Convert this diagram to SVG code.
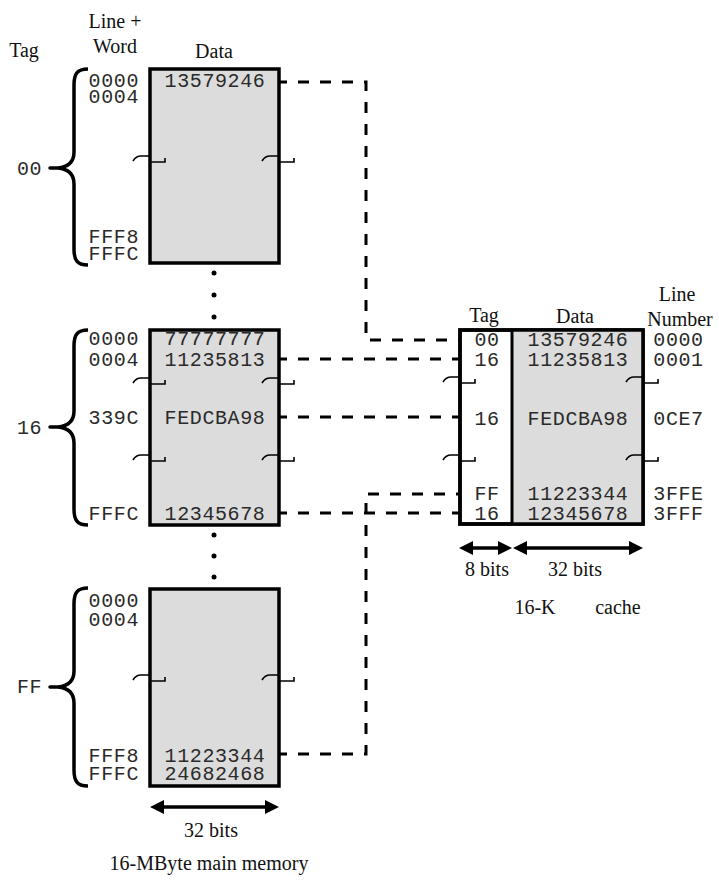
<svg xmlns="http://www.w3.org/2000/svg" width="719" height="883" viewBox="0 0 719 883">
<style>
.box{fill:#dcdcdc;stroke:#000;stroke-width:3.5}
.wbox{fill:#fff;stroke:#000;stroke-width:3.5}
.brace{fill:none;stroke:#000;stroke-width:3.5;stroke-linejoin:round}
.mark{fill:none;stroke:#000;stroke-width:1.6}
.dash{fill:none;stroke:#000;stroke-width:3;stroke-dasharray:11 11;stroke-dashoffset:3}
.mono{font-family:"Liberation Mono","DejaVu Sans Mono",monospace;font-size:20px;letter-spacing:0.6px;fill:#2a2a2a}
.ser{font-family:"Liberation Serif","Times New Roman",serif;font-size:20px;fill:#111}
.mid{text-anchor:middle}
.end{text-anchor:end}
.arr{stroke:#000;stroke-width:3.5;marker-start:url(#ah);marker-end:url(#ah)}
</style>
<defs>
<marker id="ah" viewBox="0 0 14 14" refX="2" refY="7" markerWidth="14" markerHeight="14" markerUnits="userSpaceOnUse" orient="auto-start-reverse">
<path d="M0,0 L14,7 L0,14 z" fill="#000"/>
</marker>
</defs>

<g id="headers">
<text class="ser mid" x="24" y="57">Tag</text>
<text class="ser mid" x="115" y="28">Line +</text>
<text class="ser mid" x="115" y="53">Word</text>
<text class="ser mid" x="214" y="58">Data</text>
<text class="ser mid" x="484" y="322">Tag</text>
<text class="ser mid" x="575" y="323">Data</text>
<text class="ser mid" x="677" y="301">Line</text>
<text class="ser mid" x="680" y="326">Number</text>
</g>

<g id="mem-block-00">
<rect class="box" x="150" y="69" width="129" height="194"/>
<path class="brace" d="M88,69 C77,69 74,74 74,85 L74,152 C74,162 68,167 58,168 L50,168 L58,168 C68,169 74,174 74,184 L74,249 C74,260 77,265 88,265"/>
<text class="mono" x="17" y="175">00</text>
<text class="mono end" x="139" y="87">0000</text>
<text class="mono end" x="139" y="103">0004</text>
<text class="mono end" x="139" y="243">FFF8</text>
<text class="mono end" x="139" y="260">FFFC</text>
<text class="mono mid" x="215" y="87">13579246</text>
<path class="mark" d="M133,161 Q136,156 141,156 H150 M150,162 H165 V158"/>
<path class="mark" d="M262,161 Q265,156 270,156 H279 M279,162 H294 V158"/>
</g>

<g id="dots">
<circle cx="214" cy="273" r="2.5"/>
<circle cx="214" cy="295" r="2.5"/>
<circle cx="214" cy="317" r="2.5"/>
<circle cx="214" cy="535" r="2.5"/>
<circle cx="214" cy="556" r="2.5"/>
<circle cx="214" cy="577" r="2.5"/>
</g>

<g id="mem-block-16">
<rect class="box" x="150" y="330" width="129" height="195"/>
<path class="brace" d="M88,330 C77,330 74,335 74,346 L74,411 C74,421 68,426 58,427 L50,427 L58,427 C68,428 74,433 74,443 L74,509 C74,520 77,525 88,525"/>
<text class="mono" x="17" y="434">16</text>
<text class="mono end" x="139" y="345">0000</text>
<text class="mono end" x="139" y="366">0004</text>
<text class="mono end" x="139" y="424">339C</text>
<text class="mono end" x="139" y="520">FFFC</text>
<text class="mono mid" x="215" y="345">77777777</text>
<text class="mono mid" x="215" y="366">11235813</text>
<text class="mono mid" x="215" y="424">FEDCBA98</text>
<text class="mono mid" x="215" y="520">12345678</text>
<path class="mark" d="M133,383 Q136,378 141,378 H150 M150,384 H165 V380"/>
<path class="mark" d="M262,383 Q265,378 270,378 H279 M279,384 H294 V380"/>
<path class="mark" d="M133,460 Q136,455 141,455 H150 M150,461 H165 V457"/>
<path class="mark" d="M262,460 Q265,455 270,455 H279 M279,461 H294 V457"/>
</g>

<g id="mem-block-FF">
<rect class="box" x="150" y="589" width="129" height="197"/>
<path class="brace" d="M88,588 C77,588 74,593 74,604 L74,671 C74,681 68,686 58,687 L50,687 L58,687 C68,688 74,693 74,703 L74,770 C74,781 77,786 88,786"/>
<text class="mono" x="17" y="693">FF</text>
<text class="mono end" x="139" y="607">0000</text>
<text class="mono end" x="139" y="626">0004</text>
<text class="mono end" x="139" y="762">FFF8</text>
<text class="mono end" x="139" y="780">FFFC</text>
<text class="mono mid" x="215" y="762">11223344</text>
<text class="mono mid" x="215" y="780">24682468</text>
<path class="mark" d="M133,680 Q136,675 141,675 H150 M150,681 H165 V677"/>
<path class="mark" d="M262,680 Q265,675 270,675 H279 M279,681 H294 V677"/>
</g>

<g id="mem-width">
<line class="arr" x1="162" y1="807" x2="267" y2="807"/>
<text class="ser mid" x="211" y="837">32 bits</text>
<text class="ser mid" x="209" y="870">16-MByte main memory</text>
</g>

<g id="cache">
<rect class="wbox" x="460" y="330" width="183" height="194"/>
<rect x="512" y="330" width="131" height="194" fill="#dcdcdc"/>
<rect x="460" y="330" width="183" height="194" fill="none" stroke="#000" stroke-width="3.5"/>
<line x1="512" y1="330" x2="512" y2="524" stroke="#000" stroke-width="3"/>
<text class="mono mid" x="487" y="346">00</text>
<text class="mono mid" x="487" y="366">16</text>
<text class="mono mid" x="487" y="425">16</text>
<text class="mono mid" x="487" y="500">FF</text>
<text class="mono mid" x="487" y="520">16</text>
<text class="mono mid" x="578" y="346">13579246</text>
<text class="mono mid" x="578" y="366">11235813</text>
<text class="mono mid" x="578" y="425">FEDCBA98</text>
<text class="mono mid" x="578" y="500">11223344</text>
<text class="mono mid" x="578" y="520">12345678</text>
<text class="mono mid" x="678.5" y="346">0000</text>
<text class="mono mid" x="678.5" y="366">0001</text>
<text class="mono mid" x="678.5" y="425">0CE7</text>
<text class="mono mid" x="678.5" y="500">3FFE</text>
<text class="mono mid" x="678.5" y="520">3FFF</text>
<path class="mark" d="M443,382 Q446,377 451,377 H460 M460,383 H475 V379"/>
<path class="mark" d="M626,382 Q629,377 634,377 H643 M643,383 H658 V379"/>
<path class="mark" d="M443,460 Q446,455 451,455 H460 M460,461 H475 V457"/>
<path class="mark" d="M626,460 Q629,455 634,455 H643 M643,461 H658 V457"/>
</g>

<g id="cache-width">
<line class="arr" x1="471" y1="548" x2="500" y2="548"/>
<line class="arr" x1="525" y1="548" x2="631" y2="548"/>
<text class="ser mid" x="487" y="576">8 bits</text>
<text class="ser mid" x="575" y="576">32 bits</text>
<text class="ser mid" x="535" y="614">16-K</text>
<text class="ser mid" x="618" y="614">cache</text>
</g>

<g id="connectors">
<path class="dash" d="M279,82 H366 V340 H460"/>
<path class="dash" d="M279,359 H460"/>
<path class="dash" d="M279,417 H460"/>
<path class="dash" d="M279,513 H460"/>
<path class="dash" d="M279,754 H366 V494 H460"/>
</g>
</svg>
